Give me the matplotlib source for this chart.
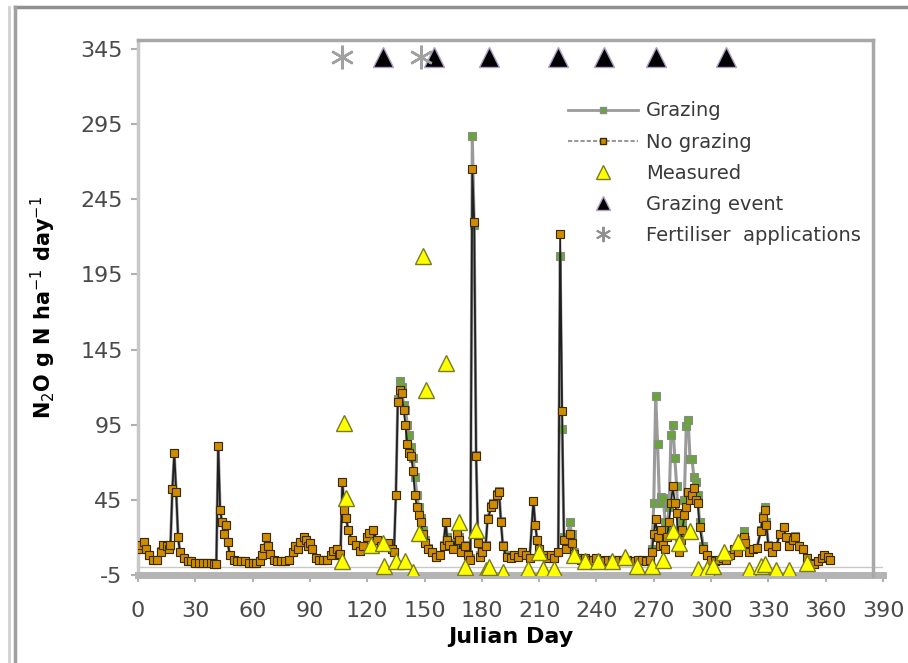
import numpy as np
import matplotlib
matplotlib.use("Agg")
import matplotlib.pyplot as plt
from matplotlib.lines import Line2D

plt.rcParams['font.family'] = ['DejaVu Sans']
plt.rcParams['axes.unicode_minus'] = False

# daily N2O flux, simulated (g N/ha/day)
days = [0, 1, 3, 4, 6, 8, 10, 12, 13, 15, 16, 17, 18, 19, 20, 21, 22, 24, 26, 28,
        30, 32, 34, 36, 38, 40, 41, 42, 43, 44, 45, 46, 47, 48, 50, 52, 54, 56, 58,
        60, 62, 64, 65, 66, 67, 68, 69, 71, 73, 75, 77, 79, 81, 82, 84, 85, 87, 88, 89,
        90, 91, 93, 95, 97, 99, 101, 102, 104, 105, 106, 107, 108, 109, 110, 112, 114,
        116, 118, 120, 121, 123, 125, 127, 129, 131, 133, 134, 135, 136, 137, 138, 139,
        140, 141, 142, 143, 144, 145, 146, 147, 148, 149, 150, 152, 154, 156, 158,
        160, 161, 162, 163, 165, 167, 168, 169, 171, 173, 174, 175, 176, 177, 178, 179,
        180, 182, 183, 185, 186, 188, 189, 190, 191, 193, 195, 197, 199, 201, 203, 205,
        207, 208, 209, 210, 212, 214, 216, 218, 220, 221, 222, 223, 224, 226, 227, 228,
        230, 232, 234, 236, 238, 240, 242, 244, 246, 248, 250, 252, 254, 256, 258, 260,
        262, 264, 266, 268, 269, 270, 271, 272, 273, 274, 275, 276, 277, 278, 279, 280,
        281, 282, 283, 284, 285, 286, 287, 288, 289, 290, 291, 292, 293, 294, 296, 298,
        300, 302, 304, 306, 308, 310, 312, 314, 316, 317, 318, 320, 322, 324, 326, 327,
        328, 329, 330, 332, 334, 336, 338, 339, 341, 343, 344, 346, 348, 350, 352, 354,
        356, 358, 359, 361, 362]

no_grazing = [12, 15, 17, 12, 8, 5, 5, 10, 15, 14, 12, 15, 52, 76, 50, 20, 10, 6, 4, 4,
              3, 3, 3, 3, 3, 2, 2, 81, 38, 30, 22, 28, 17, 8, 5, 4, 4, 4, 3,
              3, 3, 4, 8, 13, 20, 14, 9, 5, 4, 4, 4, 5, 10, 14, 12, 17, 20, 18, 14,
              16, 12, 6, 5, 5, 5, 8, 11, 12, 8, 9, 57, 38, 33, 25, 18, 15,
              11, 14, 20, 23, 25, 18, 14, 15, 16, 12, 10, 48, 110, 118, 116, 105,
              95, 82, 76, 74, 64, 48, 40, 35, 30, 22, 16, 12, 10, 7, 8,
              14, 30, 18, 15, 12, 22, 18, 10, 14, 8, 5, 265, 230, 74, 16, 7,
              10, 14, 32, 40, 42, 48, 50, 30, 14, 7, 6, 8, 7, 10, 8, 6,
              44, 28, 18, 12, 8, 6, 8, 6, 10, 222, 104, 18, 12, 22, 16, 9,
              6, 5, 6, 5, 5, 6, 5, 4, 5, 5, 4, 5, 4, 5, 4, 4,
              5, 5, 4, 5, 10, 22, 32, 20, 14, 25, 15, 12, 20, 30, 43, 54,
              43, 36, 10, 18, 25, 35, 40, 50, 45, 48, 53, 45, 43, 27, 12, 8,
              5, 4, 5, 6, 5, 8, 12, 10, 17, 20, 16, 10, 12, 13, 24, 33,
              38, 28, 14, 10, 14, 22, 27, 20, 14, 18, 20, 14, 12, 6, 3, 2,
              4, 6, 8, 7, 5]

grazing = [12, 15, 17, 12, 8, 5, 5, 11, 15, 14, 12, 15, 52, 76, 50, 20, 10, 6, 4, 4,
           3, 3, 3, 3, 3, 2, 2, 81, 38, 30, 22, 28, 17, 8, 5, 4, 4, 4, 3,
           3, 3, 4, 8, 13, 20, 14, 9, 5, 4, 4, 4, 5, 10, 14, 12, 17, 20, 18, 14,
           16, 12, 6, 5, 5, 5, 8, 11, 12, 8, 9, 57, 38, 33, 25, 18, 15,
           11, 14, 20, 23, 25, 18, 14, 15, 16, 12, 10, 48, 112, 124, 120, 108,
           105, 95, 88, 80, 73, 60, 48, 40, 33, 25, 18, 13, 10, 7, 8,
           15, 30, 20, 16, 14, 24, 20, 12, 15, 9, 6, 287, 228, 75, 18, 8,
           10, 15, 33, 41, 43, 49, 51, 31, 15, 8, 7, 8, 7, 10, 8, 6,
           44, 28, 18, 12, 8, 6, 8, 6, 10, 207, 92, 20, 14, 30, 22, 10,
           6, 5, 6, 5, 5, 6, 5, 4, 5, 5, 4, 5, 4, 5, 4, 4,
           5, 5, 4, 5, 12, 43, 114, 82, 43, 47, 46, 30, 25, 40, 88, 95,
           73, 54, 20, 25, 30, 45, 94, 98, 72, 72, 60, 57, 48, 30, 14, 8,
           5, 4, 5, 6, 5, 8, 12, 10, 18, 24, 18, 10, 12, 13, 25, 34,
           40, 30, 15, 10, 14, 22, 27, 20, 14, 18, 21, 14, 12, 6, 3, 2,
           4, 6, 8, 7, 5]

# measured chamber fluxes
meas_days = [107, 108, 109, 122, 128, 129, 135, 140, 144, 147, 149, 151, 161, 168,
             171, 177, 182, 184, 191, 204, 210, 212, 218, 228, 234, 241, 248, 255,
             261, 269, 275, 280, 283, 289, 293, 298, 301, 307, 314, 320, 326, 328,
             334, 341, 350]
measured = [4, 96, 46, 15, 16, 1, 4, 4, -3, 23, 207, 118, 136, 30,
            0, 25, -2, 0, -3, -1, 10, -1, -1, 8, 4, 4, 4, 7,
            1, 1, 5, 24, 16, 24, -1, -1, 1, 10, 17, -2, 1, 2,
            -2, -2, 3]

graze_days = [128, 155, 184, 220, 244, 271, 308]
fert_days = [107, 148]
event_level = 340

fig = plt.figure(figsize=(9.08, 6.63), dpi=100)
W, H = 908, 663
ax = fig.add_axes([138 / W, 1 - 575 / H, 745 / W, 535 / H])

ax.axhline(0, color='#c8c8c8', lw=1, zorder=1)

ax.plot(days, grazing, color='#9a9a9a', lw=2.2, marker='s', ms=5.5,
        mfc='#6aa53a', mec='#8a8a8a', mew=0.8, zorder=2)
ax.plot(days, no_grazing, color='#202020', lw=1.3, marker='s', ms=5.5,
        mfc='#d08c00', mec='#3a2a00', mew=0.8, zorder=3)
ax.plot(meas_days, measured, ls='none', marker='^', ms=11,
        mfc='#ffff00', mec='#7a7a20', mew=1.0, zorder=4)
ax.plot(graze_days, [event_level] * len(graze_days), ls='none', marker='^', ms=14,
        mfc='black', mec='#b0a0c8', mew=1.0, zorder=4, clip_on=False)
ax.plot(fert_days, [event_level] * len(fert_days), ls='none', marker=(6, 2, 0), ms=17,
        color='#a0a0a0', mew=1.8, zorder=4, clip_on=False)

ax.set_xlim(0, 390)
ax.set_ylim(-5, 351)
ax.set_xticks(np.arange(0, 391, 30))
ax.set_yticks(np.arange(-5, 346, 50))

for s in ['top', 'right']:
    ax.spines[s].set_visible(False)
ax.spines['left'].set_color('#c8c8c8')
ax.spines['left'].set_linewidth(2.5)
ax.spines['bottom'].set_color('#b4b4b4')
ax.spines['bottom'].set_linewidth(5)
ax.tick_params(axis='both', colors='#b0b0b0', length=5, width=1.5,
               labelcolor='#4a4a4a', labelsize=16)
ax.tick_params(axis='x', pad=14)
ax.tick_params(axis='y', pad=6)

ax.set_xlabel('Julian Day', fontsize=16, fontweight='bold', labelpad=4)
ax.set_ylabel('N$_2$O g N ha$^{-1}$ day$^{-1}$', fontsize=15, fontweight='bold', labelpad=16)

# plot-area box top and right edges
fig.add_artist(Line2D([138 / W, 873 / W], [1 - 40 / H, 1 - 40 / H], color='#a8a8a8', lw=2.5))
fig.add_artist(Line2D([873 / W, 873 / W], [1 - 40 / H, 1 - 576 / H], color='#a8a8a8', lw=2.5))

# outer chart frame
fig.add_artist(Line2D([15 / W, 1], [1 - 7 / H, 1 - 7 / H], color='#909090', lw=2.5))
fig.add_artist(Line2D([9 / W, 9 / W], [0, 1 - 7 / H], color='#d0d0d0', lw=2))
fig.add_artist(Line2D([15 / W, 15 / W], [0, 1 - 7 / H], color='#a0a0a0', lw=2.5))

handles = [
    Line2D([], [], color='#9a9a9a', lw=2, marker='s', ms=4.5, mfc='#6aa53a', mec='#8a8a8a'),
    Line2D([], [], color='#9a9a9a', lw=1.5, ls=(0, (2, 1)), marker='s', ms=4.5,
           mfc='#d08c00', mec='#3a2a00'),
    Line2D([], [], ls='none', marker='^', ms=10, mfc='#ffff00', mec='#7a7a20'),
    Line2D([], [], ls='none', marker='^', ms=10, mfc='black', mec='#b0a0c8'),
    Line2D([], [], ls='none', marker=(6, 2, 0), ms=11, color='#909090', mew=1.4),
]
labels = ['Grazing', 'No grazing', 'Measured', 'Grazing event', 'Fertiliser  applications']
fig.legend(handles, labels, loc='upper left', bbox_to_anchor=(550 / W, 1 - 84 / H),
           frameon=False, fontsize=14, handlelength=3.6, handletextpad=0.45,
           labelspacing=0.62, labelcolor='#3a3a3a')

fig.savefig('out.png', dpi=100)
